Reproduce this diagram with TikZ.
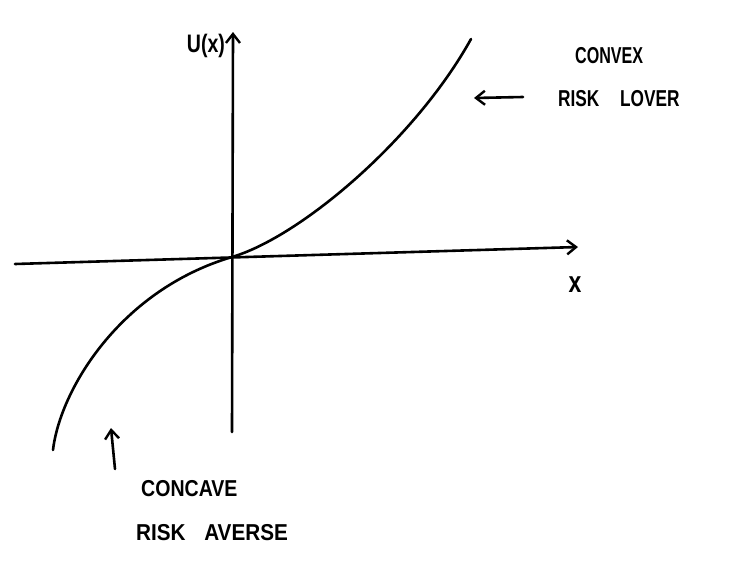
\documentclass[tikz,border=0pt]{standalone}
\usepackage{fontspec}
\setmainfont{Liberation Sans}
\usetikzlibrary{arrows.meta}
\begin{document}
\begin{tikzpicture}[x=1pt,y=-1pt,
  ink/.style={line width=2.6pt,line cap=round,line join=round,black},
  lbl/.style={font=\fontsize{23}{23}\selectfont\bfseries,inner sep=0pt,anchor=west},
  tip/.style={-{Straight Barb[length=9pt,width=14pt,line width=2.4pt]}}]
\useasboundingbox (0,0) rectangle (755,563);
% axes
\coordinate (xl) at (15,264);
\coordinate (xr) at (578,247);
\coordinate (yb) at (232,432);
\coordinate (yt) at (233,32);
\draw[ink,tip] (xl) -- (xr);
\draw[ink,tip] (yb) -- (yt);
% utility curve
\coordinate (c0) at (53,450);
\coordinate (c1) at (232,257);
\coordinate (c2) at (471,39);
\draw[ink] (c0) .. controls (60,390) and (120,290) .. (c1)
                .. controls (300,237) and (415,140) .. (c2);
% labels
\node[lbl,anchor=center] (ux) at (206,46) {\scalebox{0.85}[1.1]{U(x)}};
\node[lbl,anchor=center] (xx) at (575,285) {\scalebox{1}[1.3]{x}};
\node[lbl] (convex) at (575,56) {\scalebox{0.7}[1]{CONVEX}};
\node[lbl] (lover) at (558,99) {\scalebox{0.75}[1]{RISK\hspace{1.2em}LOVER}};
\node[lbl] (concave) at (141,489) {\scalebox{0.85}[1]{CONCAVE}};
\node[lbl] (averse) at (136,533) {\scalebox{0.9}[1]{RISK\hspace{0.9em}AVERSE}};
% pointer arrows
\coordinate (ca) at (523,97);
\coordinate (cb) at (474,98);
\draw[ink,tip] (ca) -- (cb);
\coordinate (da) at (115,469);
\coordinate (db) at (111,428);
\draw[ink,tip] (da) -- (db);
\end{tikzpicture}
\end{document}
